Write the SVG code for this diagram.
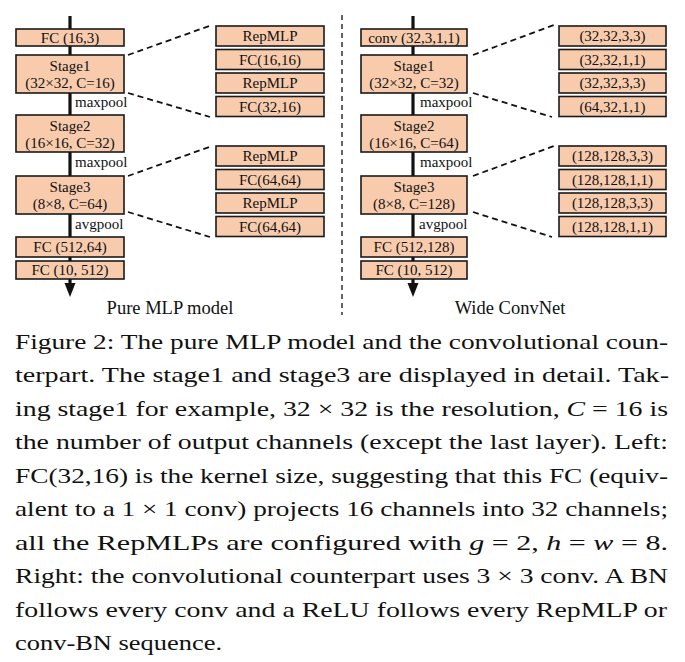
<svg xmlns="http://www.w3.org/2000/svg" width="685" height="662" viewBox="0 0 685 662">
<defs>
<style>
.bx{fill:#F8CBAD;stroke:#1a1a1a;stroke-width:1.6}
.t{font-family:"Liberation Serif","Times New Roman",serif;font-size:15px;fill:#111;text-anchor:middle}
.lb{font-family:"Liberation Serif","Times New Roman",serif;font-size:15px;fill:#111}
.ti{font-family:"Liberation Serif","Times New Roman",serif;font-size:18.5px;fill:#111;text-anchor:middle}
.cap{font-family:"Liberation Serif","Times New Roman",serif;font-size:22px;fill:#111}
.sp{stroke:#111;stroke-width:3.2;fill:none}
.dl{stroke:#111;stroke-width:1.8;stroke-dasharray:6 4;fill:none}
.dv{stroke:#111;stroke-width:1.3;stroke-dasharray:5 4;fill:none}
.it{font-style:italic}
</style>
</defs>

<g id="connectors">
<line class="sp" x1="70" y1="16" x2="70" y2="284"/>
<path d="M64.5,283 L75.5,283 L70,297 z" fill="#111"/>
<line class="sp" x1="413" y1="16" x2="413" y2="284"/>
<path d="M407.5,283 L418.5,283 L413,297 z" fill="#111"/>
<line class="dv" x1="342" y1="15" x2="342" y2="315"/>
<line class="dl" x1="128" y1="55" x2="212" y2="25"/>
<line class="dl" x1="128" y1="93" x2="210" y2="117"/>
<line class="dl" x1="128" y1="176" x2="212" y2="146"/>
<line class="dl" x1="128" y1="212" x2="210" y2="237"/>
<line class="dl" x1="473" y1="55" x2="554" y2="25"/>
<line class="dl" x1="473" y1="93" x2="552" y2="117"/>
<line class="dl" x1="473" y1="176" x2="554" y2="146"/>
<line class="dl" x1="473" y1="212" x2="552" y2="237"/>
</g>

<!-- Left column -->
<g id="l-fc163"><rect class="bx" x="16" y="29" width="108" height="17"/><text class="t" x="70" y="43">FC (16,3)</text></g>
<g id="l-stage1"><rect class="bx" x="16" y="55" width="108" height="38"/><text class="t" x="70" y="71">Stage1</text><text class="t" x="70" y="88">(32×32, C=16)</text></g>
<text class="lb" x="75" y="107">maxpool</text>
<g id="l-stage2"><rect class="bx" x="16" y="115" width="108" height="37"/><text class="t" x="70" y="131">Stage2</text><text class="t" x="70" y="148">(16×16, C=32)</text></g>
<text class="lb" x="75" y="167">maxpool</text>
<g id="l-stage3"><rect class="bx" x="16" y="176" width="108" height="38"/><text class="t" x="70" y="192">Stage3</text><text class="t" x="70" y="209">(8×8, C=64)</text></g>
<text class="lb" x="75" y="229">avgpool</text>
<g id="l-fc51264"><rect class="bx" x="16" y="237" width="108" height="20"/><text class="t" x="70" y="252">FC (512,64)</text></g>
<g id="l-fc10512"><rect class="bx" x="16" y="261" width="108" height="18"/><text class="t" x="70" y="275">FC (10, 512)</text></g>
<text class="ti" x="170" y="314">Pure MLP model</text>

<!-- Left details -->
<g id="l-d1"><rect class="bx" x="216" y="26" width="108" height="20"/><text class="t" x="270" y="41">RepMLP</text></g>
<g id="l-d2"><rect class="bx" x="216" y="49.5" width="108" height="20"/><text class="t" x="270" y="64.5">FC(16,16)</text></g>
<g id="l-d3"><rect class="bx" x="216" y="73" width="108" height="20"/><text class="t" x="270" y="88">RepMLP</text></g>
<g id="l-d4"><rect class="bx" x="216" y="96.5" width="108" height="20"/><text class="t" x="270" y="111.5">FC(32,16)</text></g>
<g id="l-d5"><rect class="bx" x="216" y="146" width="108" height="20"/><text class="t" x="270" y="161">RepMLP</text></g>
<g id="l-d6"><rect class="bx" x="216" y="169.5" width="108" height="20"/><text class="t" x="270" y="184.5">FC(64,64)</text></g>
<g id="l-d7"><rect class="bx" x="216" y="193" width="108" height="20"/><text class="t" x="270" y="208">RepMLP</text></g>
<g id="l-d8"><rect class="bx" x="216" y="216.5" width="108" height="20"/><text class="t" x="270" y="231.5">FC(64,64)</text></g>

<!-- Right column -->
<g id="r-conv"><rect class="bx" x="361" y="29" width="106" height="17"/><text class="t" x="414" y="43">conv (32,3,1,1)</text></g>
<g id="r-stage1"><rect class="bx" x="361" y="55" width="106" height="38"/><text class="t" x="414" y="71">Stage1</text><text class="t" x="414" y="88">(32×32, C=32)</text></g>
<text class="lb" x="420" y="107">maxpool</text>
<g id="r-stage2"><rect class="bx" x="361" y="115" width="106" height="37"/><text class="t" x="414" y="131">Stage2</text><text class="t" x="414" y="148">(16×16, C=64)</text></g>
<text class="lb" x="420" y="167">maxpool</text>
<g id="r-stage3"><rect class="bx" x="361" y="176" width="106" height="38"/><text class="t" x="414" y="192">Stage3</text><text class="t" x="414" y="209">(8×8, C=128)</text></g>
<text class="lb" x="419" y="229">avgpool</text>
<g id="r-fc512128"><rect class="bx" x="361" y="237" width="106" height="20"/><text class="t" x="414" y="252">FC (512,128)</text></g>
<g id="r-fc10512"><rect class="bx" x="361" y="261" width="106" height="18"/><text class="t" x="414" y="275">FC (10, 512)</text></g>
<text class="ti" x="510" y="314">Wide ConvNet</text>

<!-- Right details -->
<g id="r-d1"><rect class="bx" x="559" y="26" width="107" height="20"/><text class="t" x="612.5" y="41">(32,32,3,3)</text></g>
<g id="r-d2"><rect class="bx" x="559" y="49.5" width="107" height="20"/><text class="t" x="612.5" y="64.5">(32,32,1,1)</text></g>
<g id="r-d3"><rect class="bx" x="559" y="73" width="107" height="20"/><text class="t" x="612.5" y="88">(32,32,3,3)</text></g>
<g id="r-d4"><rect class="bx" x="559" y="96.5" width="107" height="20"/><text class="t" x="612.5" y="111.5">(64,32,1,1)</text></g>
<g id="r-d5"><rect class="bx" x="559" y="146" width="107" height="20"/><text class="t" x="612.5" y="161">(128,128,3,3)</text></g>
<g id="r-d6"><rect class="bx" x="559" y="169.5" width="107" height="20"/><text class="t" x="612.5" y="184.5">(128,128,1,1)</text></g>
<g id="r-d7"><rect class="bx" x="559" y="193" width="107" height="20"/><text class="t" x="612.5" y="208">(128,128,3,3)</text></g>
<g id="r-d8"><rect class="bx" x="559" y="216.5" width="107" height="20"/><text class="t" x="612.5" y="231.5">(128,128,1,1)</text></g>

<!-- Caption -->
<g id="caption">
<text class="cap" x="15" y="348.5" textLength="653" lengthAdjust="spacingAndGlyphs">Figure 2: The pure MLP model and the convolutional coun-</text>
<text class="cap" x="15" y="382" textLength="654" lengthAdjust="spacingAndGlyphs">terpart. The stage1 and stage3 are displayed in detail. Tak-</text>
<text class="cap" x="15" y="415.5" textLength="653" lengthAdjust="spacingAndGlyphs">ing stage1 for example, 32 × 32 is the resolution, <tspan class="it">C</tspan> = 16 is</text>
<text class="cap" x="15" y="449" textLength="653" lengthAdjust="spacingAndGlyphs">the number of output channels (except the last layer). Left:</text>
<text class="cap" x="15" y="482.5" textLength="653" lengthAdjust="spacingAndGlyphs">FC(32,16) is the kernel size, suggesting that this FC (equiv-</text>
<text class="cap" x="15" y="516" textLength="653" lengthAdjust="spacingAndGlyphs">alent to a 1 × 1 conv) projects 16 channels into 32 channels;</text>
<text class="cap" x="15" y="549.5" textLength="653" lengthAdjust="spacingAndGlyphs">all the RepMLPs are configured with <tspan class="it">g</tspan>  =  2, <tspan class="it">h</tspan>  =  <tspan class="it">w</tspan>  =  8.</text>
<text class="cap" x="15" y="583" textLength="653" lengthAdjust="spacingAndGlyphs">Right: the convolutional counterpart uses 3 × 3 conv. A BN</text>
<text class="cap" x="15" y="616.5" textLength="652" lengthAdjust="spacingAndGlyphs">follows every conv and a ReLU follows every RepMLP or</text>
<text class="cap" x="15" y="650" textLength="207" lengthAdjust="spacingAndGlyphs">conv-BN sequence.</text>
</g>
</svg>
